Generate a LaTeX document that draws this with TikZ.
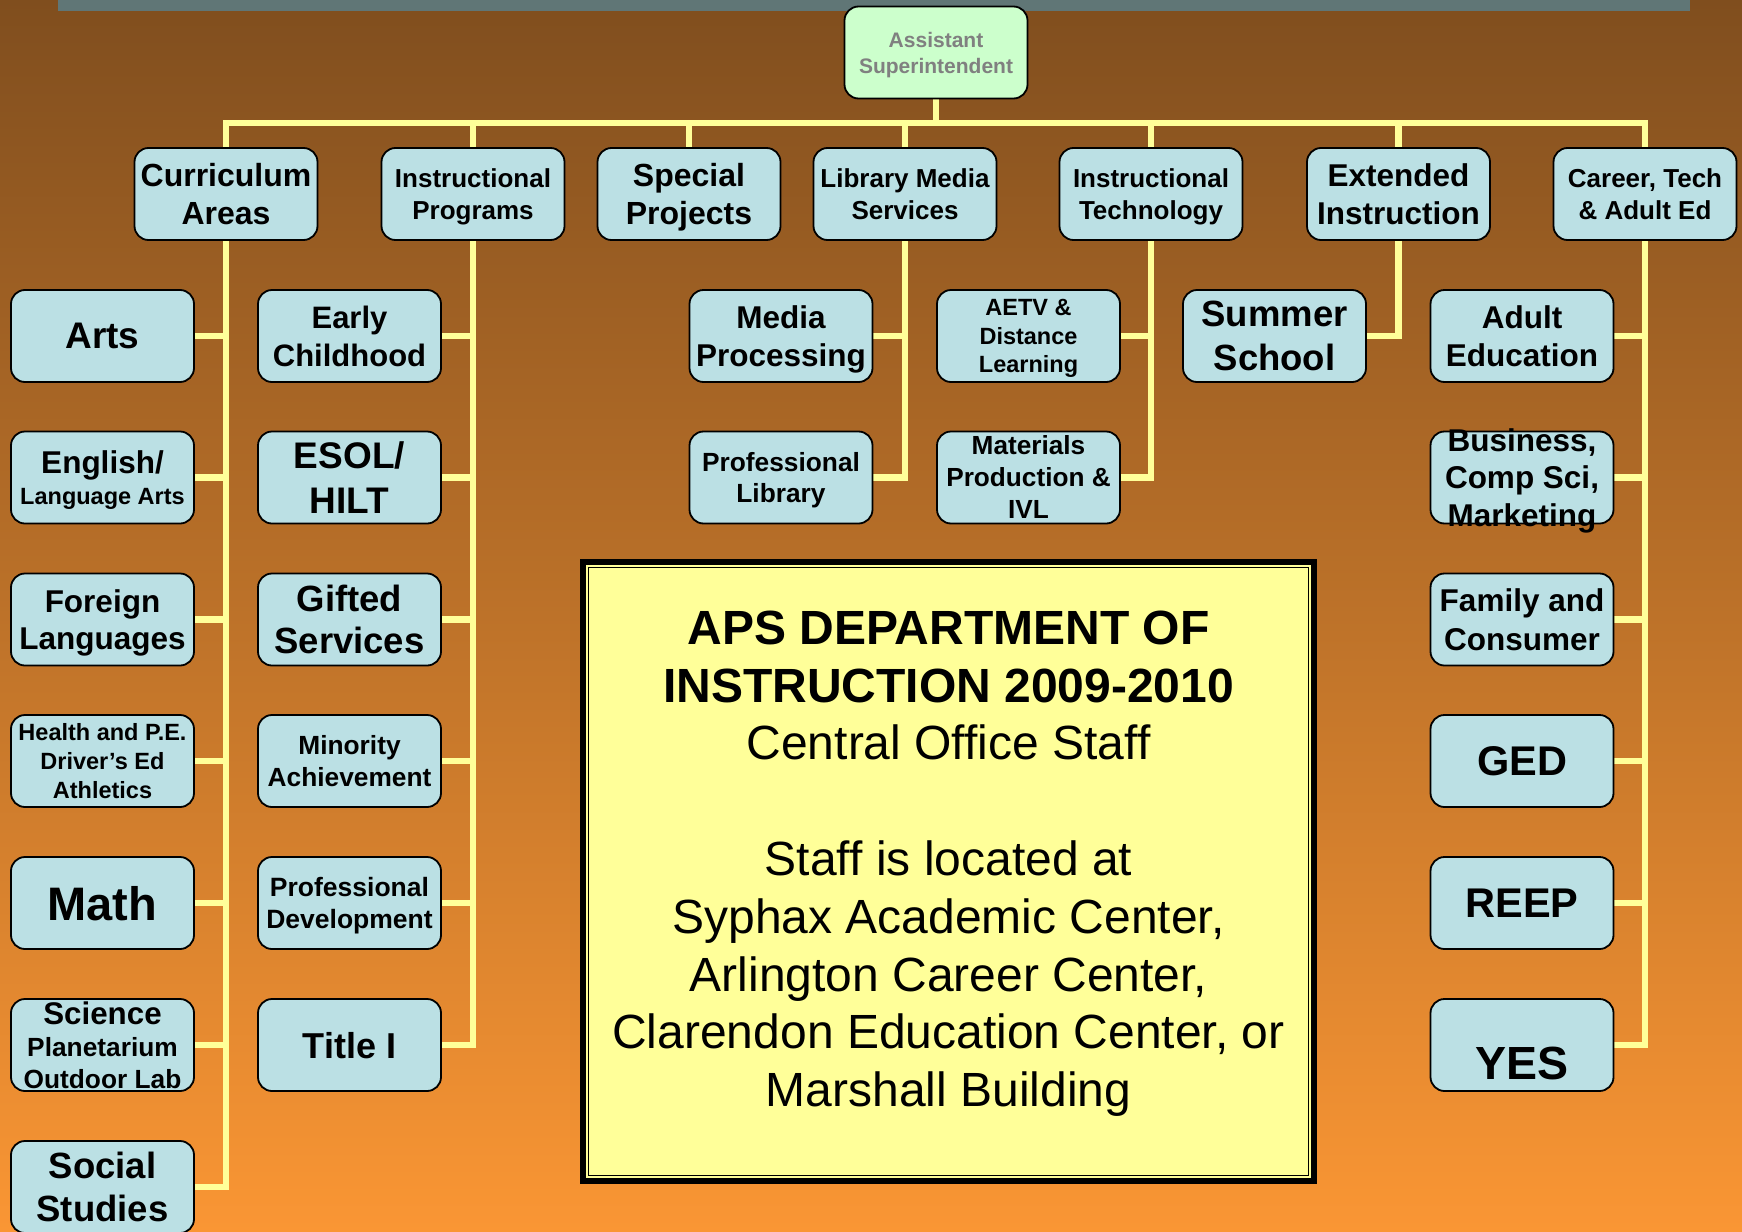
\documentclass[tikz,border=0pt]{standalone}
\usepackage{fontspec}
\setmainfont{Liberation Sans}
\pgfdeclarelayer{back}
\pgfdeclarelayer{lines}
\pgfsetlayers{back,lines,main}
\definecolor{boxblue}{RGB}{187,224,228}
\definecolor{conny}{RGB}{255,255,153}
\definecolor{apsy}{RGB}{255,255,153}
\definecolor{asstg}{RGB}{204,255,204}
\definecolor{assttxt}{RGB}{128,128,128}
\definecolor{bgtop}{RGB}{128,78,30}
\definecolor{bgbot}{RGB}{250,150,52}
\definecolor{graybar}{RGB}{96,118,118}
% \obox{name}{x}{y}{size}{skip}{text}
\newcommand{\obox}[6]{%
  \node[bx] (#1) at (#2,#3) {};
  \node[boxtext, font=\bfseries\fontsize{#4}{#5}\selectfont] (#1t) at (#1.center) {#6};}
\begin{document}
\begin{tikzpicture}[x=1pt,y=-1pt,
  bx/.style={draw=black, line width=1.8pt, fill=boxblue, rounded corners=14pt,
             minimum width=183pt, minimum height=92pt, inner sep=0pt},
  boxtext/.style={align=center, inner sep=0pt, text=black, text depth=0pt},
  conn/.style={draw=conny, line width=6.5pt}]
\useasboundingbox (0,0) rectangle (1742,1231);
\begin{pgfonlayer}{back}
  \fill[top color=bgtop, bottom color=bgbot] (0,0) rectangle (1742,1231);
  \fill[graybar] (58,0) rectangle (1690,11.5);
\end{pgfonlayer}

% top
\node[bx, fill=asstg] (asst) at (936,52.5) {};
\node[boxtext, text=assttxt, font=\bfseries\fontsize{21}{26}\selectfont] (asstt) at (asst.center) {Assistant\\Superintendent};

% level 2
\obox{cur}{226}{194}{32}{37.5}{Curriculum\\Areas}
\obox{ip}{473}{194}{26}{31.7}{Instructional\\Programs}
\obox{sp}{689}{194}{32}{37.5}{Special\\Projects}
\obox{lm}{905}{194}{26}{31.7}{Library Media\\Services}
\obox{it}{1151}{194}{26}{31.7}{Instructional\\Technology}
\obox{ei}{1398.5}{194}{31.5}{38.3}{Extended\\Instruction}
\obox{ct}{1645}{194}{26}{32}{Career, Tech\\\& Adult Ed}

% column A
\obox{arts}{102.5}{336}{37}{40}{Arts}
\obox{eng}{102.5}{477.5}{31.5}{31.7}{English/\\{\fontsize{23.5}{31.7}\selectfont Language Arts}}
\obox{forl}{102.5}{619.5}{31.5}{37.5}{Foreign\\Languages}
\obox{health}{102.5}{761}{23.5}{28.8}{Health and P.E.\\Driver’s Ed\\Athletics}
\obox{math}{102.5}{903}{47}{50}{Math}
\obox{sci}{102.5}{1045}{26.3}{31.7}{{\fontsize{31.3}{31.7}\selectfont Science}\\Planetarium\\Outdoor Lab}
\obox{ss}{102.5}{1187}{36.5}{43.3}{Social\\Studies}

% column B
\obox{ec}{349.5}{336}{31}{38.3}{Early\\Childhood}
\obox{esol}{349.5}{477.5}{37}{45}{ESOL/\\HILT}
\obox{gift}{349.5}{619.5}{36.5}{42.5}{Gifted\\Services}
\obox{minor}{349.5}{761}{26.3}{32.5}{Minority\\Achievement}
\obox{pd}{349.5}{903}{26.5}{31.9}{Professional\\Development}
\obox{tone}{349.5}{1045}{36}{40}{Title I}

% column C
\obox{mp}{781}{336}{31.5}{38}{Media\\Processing}
\obox{pl}{781}{477.5}{26.3}{31}{Professional\\Library}

% column D
\obox{aetv}{1028.5}{336}{23.5}{28.5}{AETV \&\\Distance\\Learning}
\obox{mat}{1028.5}{477.5}{26.2}{32}{Materials\\Production \&\\IVL}

% column E
\obox{summ}{1274.5}{336}{36.5}{44}{Summer\\School}

% column F
\obox{adult}{1522}{336}{31.5}{37.3}{Adult\\Education}
\obox{bus}{1522}{477.5}{31.5}{37.7}{Business,\\Comp Sci,\\Marketing}
\obox{fam}{1522}{619.5}{31.5}{38.3}{Family and\\Consumer}
\obox{ged}{1522}{761}{41.5}{45}{GED}
\obox{reep}{1522}{903}{41.5}{45}{REEP}
\node[bx] (yes) at (1522,1045) {};
\node[boxtext, font=\bfseries\fontsize{46.5}{50}\selectfont] (yest) at ([yshift=-18pt]yes.center) {YES};

% central panel
\node[draw=black, line width=6pt, fill=apsy, minimum width=731pt, minimum height=619pt, inner sep=0pt] (apsbox) at (948.5,871.5) {};
\draw[line width=1.6pt] ([shift={(8.5,8.5)}]apsbox.north west) rectangle ([shift={(-8.5,-8.5)}]apsbox.south east);
\node[anchor=north, align=center, inner sep=0pt, font=\fontsize{48}{57.8}\selectfont] (apstext) at (948.5,610.6)
  {\textbf{APS DEPARTMENT OF}\\\textbf{INSTRUCTION 2009-2010}\\Central Office Staff\\\mbox{}\\Staff is located at\\Syphax Academic Center,\\Arlington Career Center,\\Clarendon Education Center, or\\Marshall Building};

% connectors
\begin{pgfonlayer}{lines}
  \coordinate (bar) at (936,123);
  \draw[conn] (asst.south) -- (asst.south |- bar);
  \draw[conn] (cur.north) -- (cur.north |- bar) -- (ct.north |- bar) -- (ct.north);
  \foreach \n in {ip,sp,lm,it,ei} \draw[conn] (\n.north) -- (\n.north |- bar);
  % A
  \draw[conn] (cur.south) -- (cur.south |- ss.east) -- (ss.east);
  \foreach \n in {arts,eng,forl,health,math,sci} \draw[conn] (\n.east) -- (\n.east -| cur.south);
  % B
  \draw[conn] (ip.south) -- (ip.south |- tone.east) -- (tone.east);
  \foreach \n in {ec,esol,gift,minor,pd} \draw[conn] (\n.east) -- (\n.east -| ip.south);
  % C
  \draw[conn] (lm.south) -- (lm.south |- pl.east) -- (pl.east);
  \draw[conn] (mp.east) -- (mp.east -| lm.south);
  % D
  \draw[conn] (it.south) -- (it.south |- mat.east) -- (mat.east);
  \draw[conn] (aetv.east) -- (aetv.east -| it.south);
  % E
  \draw[conn] (ei.south) -- (ei.south |- summ.east) -- (summ.east);
  % F
  \draw[conn] (ct.south) -- (ct.south |- yes.east) -- (yes.east);
  \foreach \n in {adult,bus,fam,ged,reep} \draw[conn] (\n.east) -- (\n.east -| ct.south);
\end{pgfonlayer}
\end{tikzpicture}
\end{document}
